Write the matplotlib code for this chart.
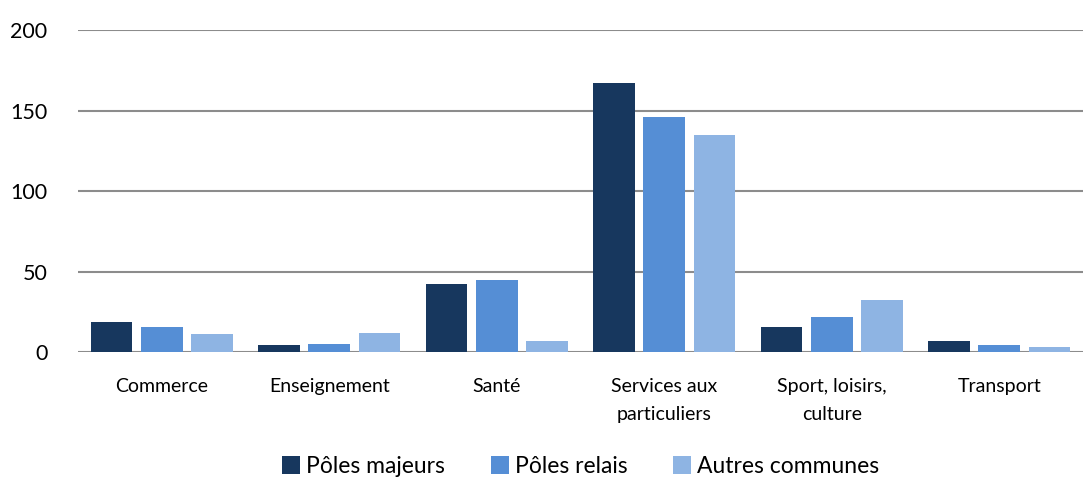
import numpy as np
import matplotlib
matplotlib.use('Agg')
import matplotlib.pyplot as plt

plt.rcParams['font.family'] = ['Lato', 'DejaVu Sans']

categories = ['Commerce', 'Enseignement', 'Santé', 'Services aux\nparticuliers',
              'Sport, loisirs,\nculture', 'Transport']
series_names = ['Pôles majeurs', 'Pôles relais', 'Autres communes']
poles_majeurs = [18.7, 4.4, 42.3, 167.0, 15.8, 6.8]
poles_relais = [15.6, 5.2, 44.8, 146.0, 21.8, 4.5]
autres_communes = [11.4, 12.0, 6.8, 134.8, 32.4, 3.3]
colors = ['#17375E', '#558ED5', '#8EB4E3']
yticks = [0, 50, 100, 150, 200]

fig = plt.figure(figsize=(10.89, 4.78), dpi=100)
ax = fig.add_axes([0.0716, 0.2636, 0.9229, 0.6734])

x = np.arange(len(categories))
width = 0.25
for i, (vals, name) in enumerate(zip([poles_majeurs, poles_relais, autres_communes], series_names)):
    ax.bar(x + (i - 1) * 0.3, vals, width, color=colors[i], label=name, zorder=3)

ax.set_xlim(-0.5, len(categories) - 0.5)
ax.set_ylim(0, 200)
ax.set_yticks(yticks)
ax.set_xticks(x)
ax.set_xticklabels(categories, fontsize=14, linespacing=1.75)
ax.tick_params(axis='y', labelsize=15.5, length=0, pad=22)
ax.tick_params(axis='x', length=0, pad=19)
ax.grid(axis='y', color='#8c8c8c', linewidth=1.5, zorder=0)
for s in ax.spines.values():
    s.set_visible(False)

ax.legend(loc='center', bbox_to_anchor=(0.5, -0.355), ncol=3, frameon=False,
          fontsize=16.5, handlelength=0.8, handleheight=0.8, handletextpad=0.25,
          columnspacing=2.0, borderpad=0)

fig.savefig('out.png', dpi=100)
